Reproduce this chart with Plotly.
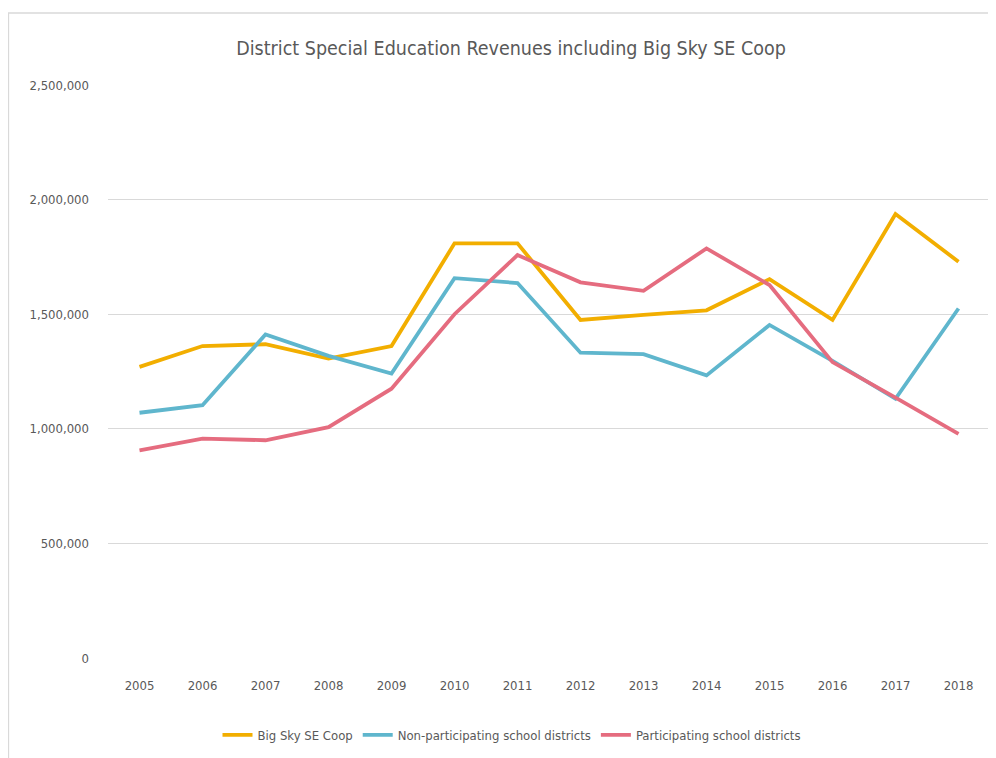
import plotly.graph_objects as go

years = ["2005", "2006", "2007", "2008", "2009", "2010", "2011",
         "2012", "2013", "2014", "2015", "2016", "2017", "2018"]
big_sky = [1270000, 1361000, 1369000, 1306000, 1361000, 1809000, 1809000,
           1475000, 1497000, 1517000, 1653000, 1475000, 1937000, 1729000]
non_participating = [1070000, 1103000, 1412000, 1318000, 1241000, 1657000, 1636000,
                     1332000, 1326000, 1233000, 1453000, 1296000, 1131000, 1525000]
participating = [906000, 957000, 950000, 1007000, 1175000, 1500000, 1758000,
                 1639000, 1602000, 1787000, 1627000, 1291000, 1136000, 978000]
y_ticks = [0, 500000, 1000000, 1500000, 2000000, 2500000]
y_tick_labels = ["0", "500,000", "1,000,000", "1,500,000", "2,000,000", "2,500,000"]

FONT = "Liberation Sans Narrow, DejaVu Sans Condensed, Arial Narrow, sans-serif"
TXT = "#595959"

fig = go.Figure()
series = [
    ("Big Sky SE Coop", big_sky, "#F2AE00"),
    ("Non-participating school districts", non_participating, "#5FB6CD"),
    ("Participating school districts", participating, "#E56C7F"),
]
for name, vals, col in series:
    fig.add_trace(go.Scatter(x=years, y=vals, name=name, mode="lines",
                             line=dict(color=col, width=3.8)))

# page body has an 8px margin, so the figure sits at (8, 8) on screen
OFF = 8
W, H = 996 - OFF, 758 - OFF
L, R, T = 108 - OFF, 6, 85 - OFF
ph = 573
B = H - T - ph
pw = W - L - R

fig.update_layout(
    width=W, height=H,
    margin=dict(l=L, r=R, t=T, b=B),
    paper_bgcolor="white", plot_bgcolor="white",
    font=dict(family=FONT, color=TXT, size=13),
    title=dict(text="District Special Education Revenues including Big Sky SE Coop",
               x=(511 - OFF) / W, xanchor="center", y=1 - (48 - OFF) / H, yanchor="middle",
               font=dict(size=19.5, color=TXT, family=FONT)),
    xaxis=dict(type="category", range=[-0.5, 13.5], showgrid=False,
               showline=False, zeroline=False, ticks="", ticklabelstandoff=18,
               tickfont=dict(size=13, color=TXT)),
    yaxis=dict(range=[0, 2500000], tickvals=y_ticks, ticktext=y_tick_labels,
               showgrid=True, gridcolor="#D9D9D9", gridwidth=1.3,
               zeroline=False, showline=False, ticks="", ticklabelstandoff=18,
               tickfont=dict(size=13, color=TXT)),
    legend=dict(orientation="h", x=(512 - 108) / pw, xanchor="center",
                y=-(735 - 658) / ph, yanchor="middle",
                font=dict(size=13, color=TXT)),
    showlegend=True,
)

# outer chart border (light gray)
fig.add_shape(type="rect", xref="paper", yref="paper",
              x0=(0.5 - L) / pw, x1=(1010 - L) / pw,
              y0=-(780 - 658) / ph, y1=1 + (85 - 13) / ph,
              line=dict(color="#D9D9D9", width=1.3), fillcolor="rgba(0,0,0,0)",
              layer="below")

fig.write_html("out.html")
